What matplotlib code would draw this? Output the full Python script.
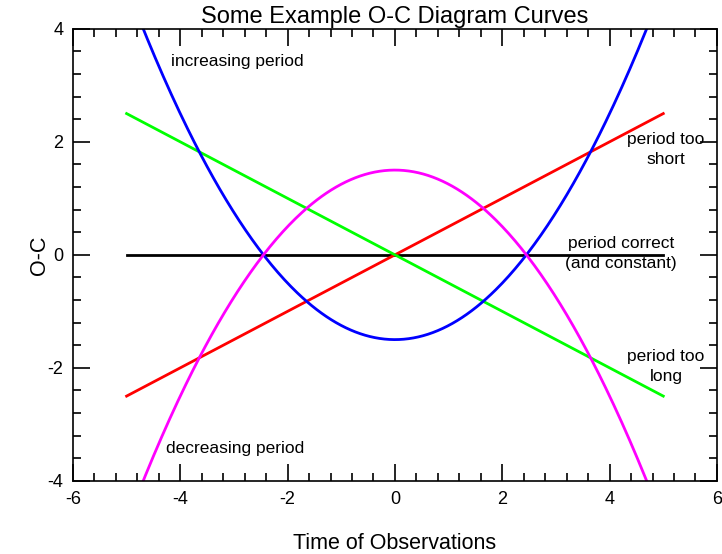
import matplotlib
matplotlib.use('Agg')
import matplotlib.pyplot as plt
import numpy as np
from matplotlib.ticker import MultipleLocator

plt.rcParams['font.family'] = ['Liberation Sans', 'DejaVu Sans']
plt.rcParams['axes.unicode_minus'] = False

# curves: constant, too short, too long, increasing, decreasing
x_line = [-5, 5]
y_flat = [0, 0]
y_short = [-2.5, 2.5]
y_long = [2.5, -2.5]
quad_coef = 0.25
quad_offset = 1.5

labels = ['increasing period', 'decreasing period', 'period too\nshort',
          'period correct\n(and constant)', 'period too\nlong']
label_x = [-2.93, -2.98, 5.05, 4.21, 5.05]
label_y = [3.43, -3.43, 1.86, 0.02, -1.98]

fig = plt.figure(figsize=(7.22, 5.54), dpi=100)
ax = fig.add_axes((0.101, 0.132, 0.892, 0.816))

xq = np.linspace(-6, 6, 400)
lw = 2.0
ax.plot(x_line, y_flat, color='black', lw=lw)
ax.plot(x_line, y_short, color='#ff0000', lw=lw)
ax.plot(x_line, y_long, color='#00ff00', lw=lw)
ax.plot(xq, quad_coef * xq**2 - quad_offset, color='#0000ff', lw=lw)
ax.plot(xq, quad_offset - quad_coef * xq**2, color='#ff00ff', lw=lw)

for s, x, y in zip(labels, label_x, label_y):
	ax.text(x, y, s, ha='center', va='center', fontsize=12.5, linespacing=1.45)

ax.set_xlim(-6, 6)
ax.set_ylim(-4, 4)
ax.xaxis.set_major_locator(MultipleLocator(2))
ax.yaxis.set_major_locator(MultipleLocator(2))
ax.xaxis.set_minor_locator(MultipleLocator(0.4))
ax.yaxis.set_minor_locator(MultipleLocator(0.4))
ax.tick_params(which='both', direction='in', top=True, right=True, labelsize=13, width=1.2)
ax.tick_params(which='major', length=12, pad=7)
ax.tick_params(which='minor', length=6)
for sp in ax.spines.values():
	sp.set_linewidth(1.2)

ax.set_title('Some Example O-C Diagram Curves', fontsize=17, pad=4)
ax.set_xlabel('Time of Observations', fontsize=15.5, labelpad=18)
ax.set_ylabel('O-C', fontsize=15.5, labelpad=-2)

fig.savefig('out.png', dpi=100)
